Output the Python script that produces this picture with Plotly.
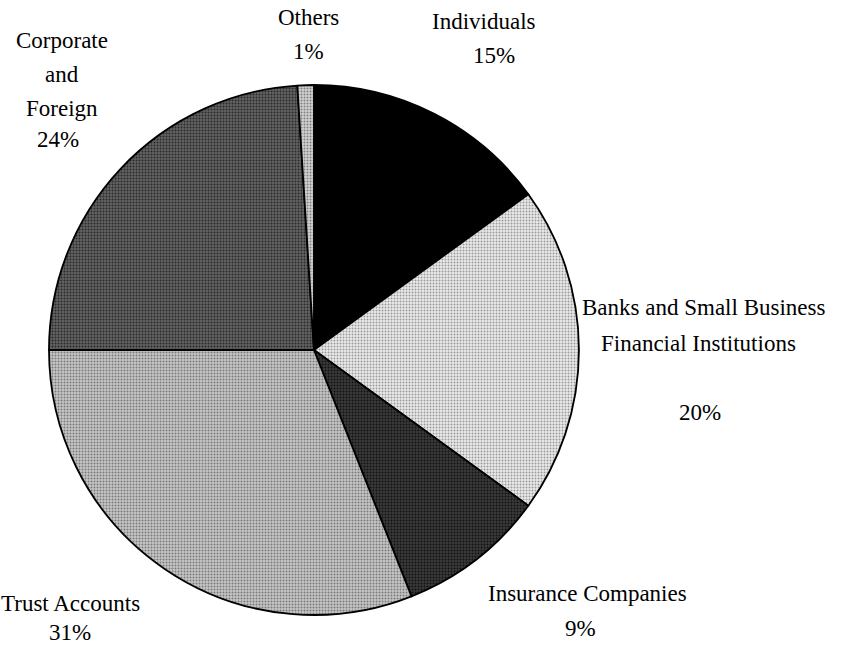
import plotly.graph_objects as go

categories = ["Individuals", "Banks and Small Business Financial Institutions",
              "Insurance Companies", "Trust Accounts", "Corporate and Foreign", "Others"]
shares = [15, 20, 9, 31, 24, 1]

fill_colors = ["#000000", "#ebebeb", "#3a3a3a", "#c6c6c6", "#626262", "#d2d2d2"]
dot_colors = ["#000000", "#9a9a9a", "#111111", "#7a7a7a", "#2a2a2a", "#808080"]
dot_shapes = ["", ".", ".", ".", ".", "."]

fig = go.Figure(go.Pie(
    labels=categories,
    values=shares,
    sort=False,
    direction="clockwise",
    rotation=0,
    textinfo="none",
    hoverinfo="label+percent",
    marker=dict(
        colors=fill_colors,
        line=dict(color="#000000", width=1.8),
        pattern=dict(shape=dot_shapes, fgcolor=dot_colors, bgcolor=fill_colors,
                     size=3, solidity=0.35, fillmode="replace"),
    ),
    domain=dict(x=[0.057, 0.674], y=[0.0495, 0.8686]),
    showlegend=False,
))

W, H = 859, 647
font = dict(family="Liberation Serif, Times New Roman, serif", size=23, color="#000000")

# label lines: (text, x_px, y_px)
label_lines = [
    ("Others", 308, 18), ("1%", 308, 52),
    ("Individuals", 484, 22), ("15%", 494, 56),
    ("Corporate", 62, 40), ("and", 62, 75), ("Foreign", 62, 108), ("24%", 58, 140),
    ("Banks and Small Business", 703, 307), ("Financial Institutions", 698, 343),
    ("20%", 700, 412),
    ("Insurance Companies", 587, 593), ("9%", 580, 628),
    ("Trust Accounts", 70, 603), ("31%", 70, 632),
]
for text, xp, yp in label_lines:
    fig.add_annotation(text=text, x=xp / W, y=1 - yp / H, xref="paper", yref="paper",
                       showarrow=False, xanchor="center", yanchor="middle", font=font)

fig.update_layout(
    width=W, height=H,
    margin=dict(l=0, r=0, t=0, b=0),
    paper_bgcolor="#ffffff", plot_bgcolor="#ffffff",
)
fig.write_html("out.html")
